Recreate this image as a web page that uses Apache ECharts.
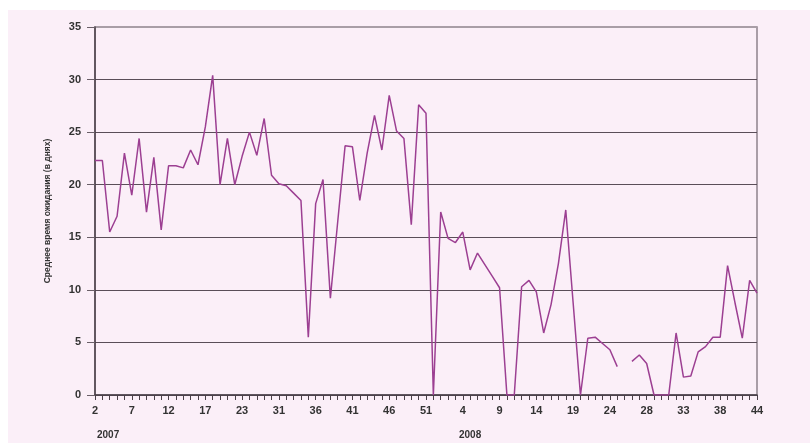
<!DOCTYPE html>
<html>
<head>
<meta charset="utf-8">
<script src="https://cdn.jsdelivr.net/npm/echarts@6/dist/echarts.min.js"></script>
<style>
html,body{margin:0;padding:0;background:#ffffff;}
#wrap{position:relative;width:810px;height:443px;background:#ffffff;}
#bg{position:absolute;left:8px;top:10px;width:802px;height:433px;background:#fbeff8;}
#chart{position:absolute;left:0;top:0;width:810px;height:443px;}
</style>
</head>
<body>
<div id="wrap"><div id="bg"></div><div id="chart"></div></div>
<script>
// Week labels (2007 weeks, then 2008 weeks); '' = empty week slot
const weeks2007 = ['2','3','4','5','6','7','8','9','10','11','12','13','14','15','16','17','18','19','20','21','23','24','26','28','30','31','32','33','34','35','36','37','38','39','40','41','42','43','44','45','46','47','48','49','50','51','52'];
const weeks2008 = ['1','2','3','4','5','6','7','8','9','10','11','12','13','14','15','16','17','18','19','20','21','22','23','24','25','','26','27','28','29','30','31','32','33','34','35','36','37','38','39','41','42','43','44'];
const categories = weeks2007.concat(weeks2008);

// Average waiting time (days)
const waitDays = [
  22.3, 22.3, 15.5, 17.0, 23.0, 19.0, 24.4, 17.4, 22.6, 15.7,
  21.8, 21.8, 21.6, 23.3, 21.9, 25.5, 30.4, 20.0, 24.4, 20.0,
  22.7, 25.0, 22.8, 26.3, 20.9, 20.1, 19.9, 19.2, 18.5, 5.5,
  18.2, 20.5, 9.2, 16.5, 23.7, 23.6, 18.5, 23.0, 26.6, 23.3,
  28.5, 25.1, 24.4, 16.2, 27.6, 26.8, 0, 17.4, 14.9, 14.5,
  15.5, 11.9, 13.5, 12.4, 11.3, 10.2, 0, 0, 10.3, 10.9,
  9.8, 5.9, 8.6, 12.5, 17.6, 8.8, 0, 5.4, 5.5, 4.9,
  4.3, 2.7, null, 3.2, 3.8, 3.0, 0, 0, 0, 5.9,
  1.7, 1.8, 4.1, 4.6, 5.5, 5.5, 12.3, 8.8, 5.4, 10.9,
  9.7
];

const yTicks = [0, 5, 10, 15, 20, 25, 30, 35];
const yearLabels = ['2007', '2008'];
const yTitle = 'Среднее время ожидания (в днях)';

const chart = echarts.init(document.getElementById('chart'), null, {renderer: 'canvas'});
const font = 'Liberation Sans';
chart.setOption({
  backgroundColor: 'transparent',
  animation: false,
  grid: {left: 95, right: 53, top: 27, bottom: 48, show: true, borderColor: '#8e838c', borderWidth: 1.5, backgroundColor: 'transparent'},
  xAxis: {
    type: 'category',
    data: categories,
    boundaryGap: false,
    axisLine: {show: true, lineStyle: {color: '#4a4048', width: 1.5}},
    axisTick: {show: true, interval: 0, length: 5, lineStyle: {color: '#4a4048', width: 1}},
    axisLabel: {interval: 4, color: '#333', fontFamily: font, fontWeight: 'bold', fontSize: 11, margin: 10},
    splitLine: {show: false}
  },
  yAxis: {
    type: 'value',
    min: yTicks[0],
    max: yTicks[yTicks.length - 1],
    interval: 5,
    name: yTitle,
    nameLocation: 'middle',
    nameRotate: 90,
    nameGap: 43,
    nameTextStyle: {color: '#333', fontFamily: font, fontWeight: 'bold', fontSize: 8.5},
    axisLine: {show: true, lineStyle: {color: '#4a4048', width: 1.5}},
    axisTick: {show: true, length: 8, lineStyle: {color: '#6a5f68', width: 1}},
    axisLabel: {color: '#333', fontFamily: font, fontWeight: 'bold', fontSize: 11, margin: 14},
    splitLine: {show: true, lineStyle: {color: ['#5a4e58','#5a4e58','#5a4e58','#5a4e58','#5a4e58','#5a4e58','#5a4e58','#a89ea6'], width: 1.2}}
  },
  graphic: [
    {type: 'text', left: 97, top: 430, style: {text: yearLabels[0], fill: '#333', font: 'bold 10px ' + font}},
    {type: 'text', left: 459, top: 430, style: {text: yearLabels[1], fill: '#333', font: 'bold 10px ' + font}}
  ],
  series: [{
    type: 'line',
    data: waitDays,
    showSymbol: false,
    connectNulls: false,
    lineStyle: {color: '#9c3f92', width: 1.5},
    itemStyle: {color: '#9c3f92'}
  }]
});
</script>
</body>
</html>
